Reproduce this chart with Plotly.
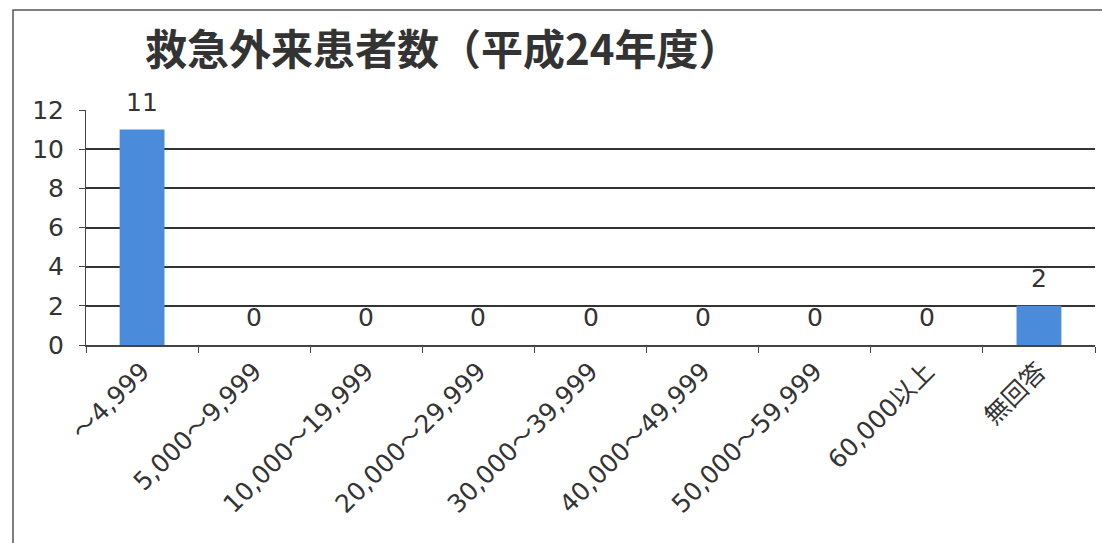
import plotly.graph_objects as go

categories = ["～4,999", "5,000～9,999", "10,000～19,999", "20,000～29,999", "30,000～39,999",
              "40,000～49,999", "50,000～59,999", "60,000以上", "無回答"]
values = [11, 0, 0, 0, 0, 0, 0, 0, 2]
title_text = "救急外来患者数（平成24年度）"

FONT = "DejaVu Sans, Noto Sans CJK JP"
TFONT = "Noto Sans CJK JP"

fig = go.Figure(go.Bar(
    x=categories, y=values,
    marker=dict(color="#4a8bdb", line=dict(width=0)),
    width=0.4,
))

for c, v in zip(categories, values):
    fig.add_annotation(x=c, y=v, text=str(v), showarrow=False, yanchor="bottom", yshift=11,
                       font=dict(family=FONT, size=25, color="#333333"))

fig.update_layout(
    width=1102, height=543,
    margin=dict(l=86, r=7, t=110, b=198),
    paper_bgcolor="white", plot_bgcolor="white",
    showlegend=False,
    title=dict(text="<b>" + title_text + "</b>", x=145/1102, xanchor="left", y=1-50/543, yanchor="middle",
               font=dict(family=TFONT, size=42, color="#333333")),
    font=dict(family=FONT, color="#333333"),
    bargap=0.6,
)
fig.update_xaxes(
    type="category", tickangle=-45, tickson="boundaries",
    ticks="outside", ticklen=6, tickcolor="#444444",
    showline=True, linecolor="#444444", linewidth=1.5,
    showgrid=False,
    tickfont=dict(family=FONT, size=25, color="#333333"),
)
fig.update_yaxes(
    range=[0, 12], dtick=2,
    ticks="outside", ticklen=6, tickcolor="#444444",
    showline=True, linecolor="#444444", linewidth=1,
    showgrid=True, gridcolor="#333333", gridwidth=1.5,
    zeroline=False,
    ticklabelstandoff=10,
    tickfont=dict(family=FONT, size=25, color="#333333"),
)
fig.add_shape(type="rect", xref="paper", yref="paper",
              x0=-73/1009, x1=1.01, y0=-1.0, y1=1 + 100/235,
              line=dict(color="#555555", width=1.5), fillcolor="rgba(0,0,0,0)", layer="below")

fig.write_html("out.html")
